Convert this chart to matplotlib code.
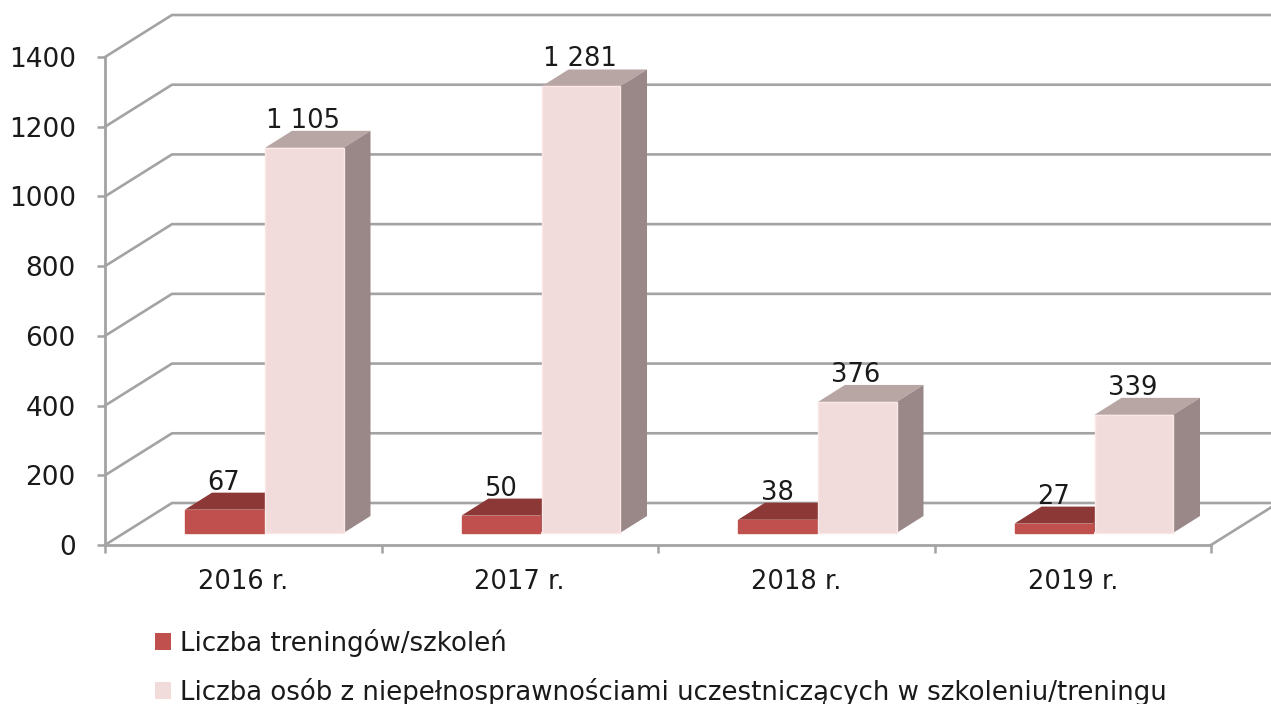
import matplotlib.pyplot as plt
from matplotlib.patches import Patch, Polygon

years = ['2016 r.', '2017 r.', '2018 r.', '2019 r.']
trainings = [67, 50, 38, 27]
people = [1105, 1281, 376, 339]
trainings_labels = ['67', '50', '38', '27']
people_labels = ['1 105', '1 281', '376', '339']
y_ticks = [0, 200, 400, 600, 800, 1000, 1200, 1400]
legend_names = ['Liczba treningów/szkoleń',
                'Liczba osób z niepełnosprawnościami uczestniczących w szkoleniu/treningu']

plt.rcParams['font.family'] = 'DejaVu Sans'

W, H = 1271, 704
fig = plt.figure(figsize=(W / 100, H / 100), dpi=100)
ax = fig.add_axes([105 / W, (H - 545) / H, 1106 / W, 488 / H])
ax.set_xlim(0, 4)
ax.set_ylim(0, 1400)

# one pixel in data units, the fake 3d depth is easier to think about in pixels
px_x = 4 / 1106
px_y = 1400 / 488
grid_color = '#a3a3a3'
text_color = '#1a1a1a'

# walls
wall_dx = 67 * px_x
wall_dy = 42 * px_y
for v in y_ticks:
    ax.plot([0, wall_dx, 4 + wall_dx], [v, v + wall_dy, v + wall_dy],
            color=grid_color, lw=1.9, clip_on=False, zorder=1)
ax.plot([4, 4 + wall_dx], [0, wall_dy], color=grid_color, lw=1.9, clip_on=False, zorder=1)


def draw_bar(x, value, color, top_color, side_color, edge):
    # front, top and side of one box
    base = 12 * px_y
    w = 78.5 * px_x
    dx = 27 * px_x
    dy = 17 * px_y
    t = base + value
    ax.add_patch(Polygon([(x, t), (x + dx, t + dy), (x + w + dx, t + dy), (x + w, t)],
                         facecolor=top_color, edgecolor='none', clip_on=False, zorder=3))
    ax.add_patch(Polygon([(x + w, base), (x + w + dx, base + dy), (x + w + dx, t + dy), (x + w, t)],
                         facecolor=side_color, edgecolor='none', clip_on=False, zorder=3))
    ax.bar(x, value, w, bottom=base, align='edge', color=color, edgecolor=edge, lw=1,
           clip_on=False, zorder=4)


for i in range(len(years)):
    x_red = i + 80 * px_x
    x_pink = i + 160 * px_x
    draw_bar(x_red, trainings[i], '#c0504d', '#8c3836', '#8c3836', '#c0504d')
    draw_bar(x_pink, people[i], '#f2dcdb', '#b8a6a5', '#998887', '#fbe8e6')
    ax.text(x_red + 39 * px_x, trainings[i] + 32 * px_y, trainings_labels[i],
            ha='center', va='baseline', fontsize=18.5, color=text_color, zorder=6)
    ax.text(x_pink + 38 * px_x, people[i] + 32 * px_y, people_labels[i],
            ha='center', va='baseline', fontsize=18.5, color=text_color, zorder=6)

# axes
for s in ['top', 'right']:
    ax.spines[s].set_visible(False)
for s in ['left', 'bottom']:
    ax.spines[s].set_color(grid_color)
    ax.spines[s].set_linewidth(2)
    ax.spines[s].set_zorder(5)
ax.patch.set_alpha(0)

ax.set_yticks(y_ticks)
ax.tick_params(axis='y', length=6, width=1.8, color=grid_color, pad=15, labelsize=19,
               labelcolor=text_color)
ax.set_xticks(range(5))
ax.set_xticklabels([])
ax.set_xticks([i + 0.5 for i in range(4)], minor=True)
ax.set_xticklabels(years, minor=True)
ax.tick_params(axis='x', which='major', length=6, width=1.8, color=grid_color)
ax.tick_params(axis='x', which='minor', length=0, pad=17, labelsize=18.5, labelcolor=text_color)

handles = [Patch(facecolor='#c0504d', edgecolor='none'), Patch(facecolor='#f2dcdb', edgecolor='none')]
ax.legend(handles, legend_names, loc='upper left', bbox_to_anchor=(155 / W, 1 - 629 / H),
          bbox_transform=fig.transFigure, frameon=False, fontsize=18.7, labelcolor=text_color,
          borderpad=0, borderaxespad=0, handlelength=0.62, handleheight=0.62,
          handletextpad=0.33, labelspacing=0.8)

fig.savefig('out.png', dpi=100)
